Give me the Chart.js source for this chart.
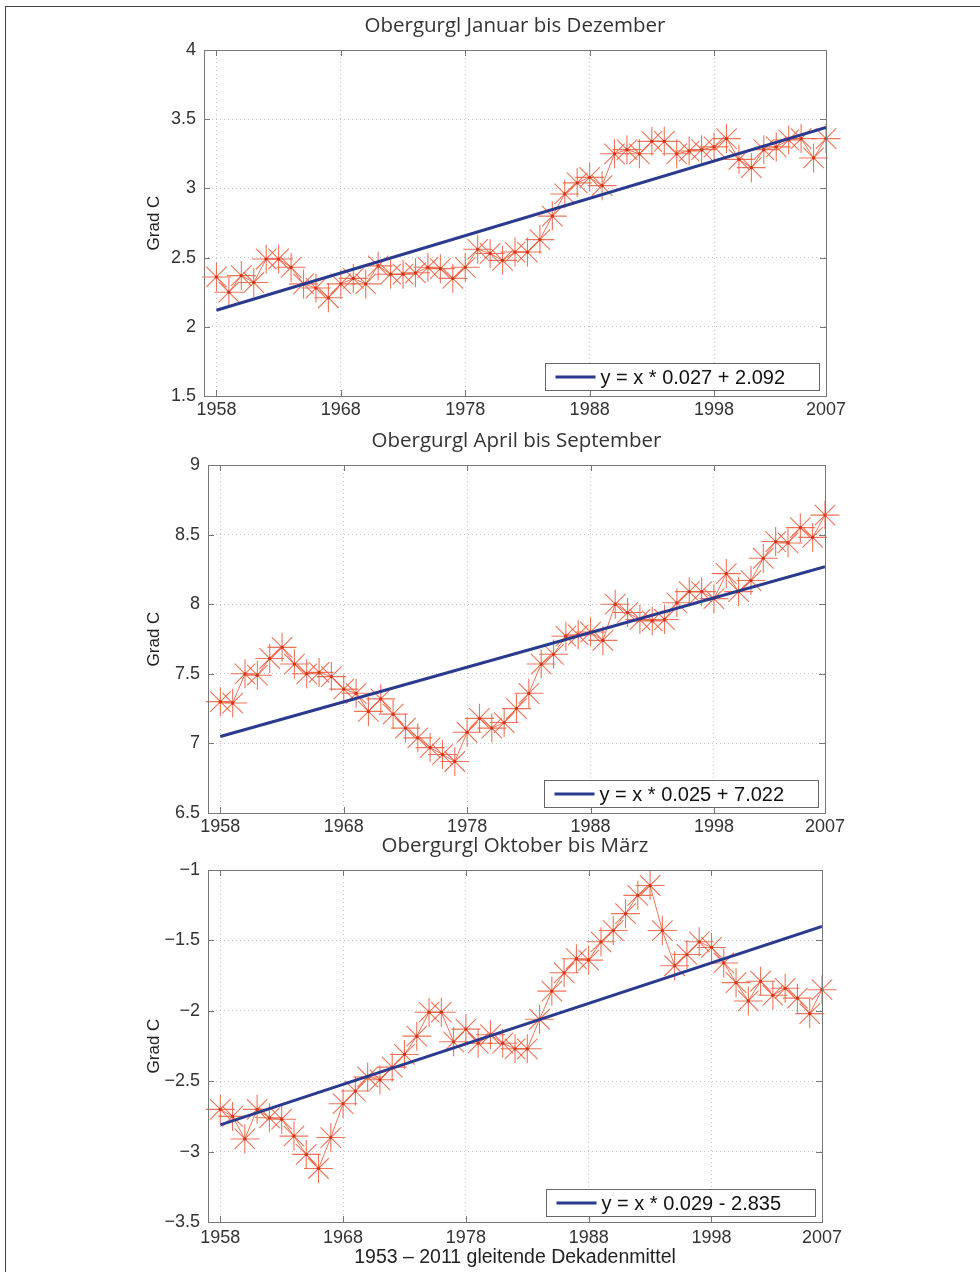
<!DOCTYPE html>
<html>
<head>
<meta charset="utf-8">
<script src="https://cdn.jsdelivr.net/npm/chart.js@4.4.1/dist/chart.umd.min.js"></script>
<style>
  body { margin: 0; background: #fff; }
  #page { position: relative; width: 980px; height: 1272px; overflow: hidden; background: #fff; }
  #frame { position: absolute; left: 5px; top: 6px; width: 990px; height: 1280px;
           border-left: 1px solid #444; border-top: 1px solid #444; }
  canvas { position: absolute; left: 0; }
</style>
</head>
<body>
<div id="page">
  <div id="frame"></div>
  <canvas id="p1" width="980" height="432" style="top:0px"></canvas>
  <canvas id="p2" width="980" height="420" style="top:425px"></canvas>
  <canvas id="p3" width="980" height="444" style="top:828px"></canvas>
</div>
<script>
// Obergurgl, gliding decade means, one value per year
const years = [
  1958, 1959, 1960, 1961, 1962, 1963, 1964, 1965, 1966, 1967,
  1968, 1969, 1970, 1971, 1972, 1973, 1974, 1975, 1976, 1977,
  1978, 1979, 1980, 1981, 1982, 1983, 1984, 1985, 1986, 1987,
  1988, 1989, 1990, 1991, 1992, 1993, 1994, 1995, 1996, 1997,
  1998, 1999, 2000, 2001, 2002, 2003, 2004, 2005, 2006, 2007
];

const janDez = [
  2.36, 2.25, 2.37, 2.32, 2.49, 2.49, 2.43, 2.31, 2.28, 2.21,
  2.31, 2.35, 2.31, 2.44, 2.38, 2.38, 2.39, 2.43, 2.42, 2.35,
  2.43, 2.56, 2.53, 2.48, 2.54, 2.54, 2.63, 2.80, 2.96, 3.04,
  3.08, 3.02, 3.25, 3.28, 3.25, 3.34, 3.34, 3.25, 3.27, 3.28,
  3.30, 3.36, 3.21, 3.15, 3.28, 3.30, 3.35, 3.36, 3.22, 3.36
];

const aprSep = [
  7.30, 7.29, 7.50, 7.49, 7.61, 7.69, 7.57, 7.50, 7.51, 7.48,
  7.39, 7.36, 7.23, 7.32, 7.21, 7.11, 7.04, 6.97, 6.92, 6.87,
  7.08, 7.18, 7.11, 7.15, 7.25, 7.36, 7.57, 7.64, 7.77, 7.78,
  7.80, 7.74, 8.00, 7.94, 7.89, 7.88, 7.89, 8.01, 8.09, 8.09,
  8.04, 8.22, 8.09, 8.17, 8.33, 8.45, 8.44, 8.55, 8.48, 8.64
];

const oktMar = [
  -2.70, -2.75, -2.91, -2.70, -2.76, -2.77, -2.89, -3.02, -3.12, -2.90,
  -2.66, -2.57, -2.47, -2.49, -2.40, -2.31, -2.18, -2.01, -2.01, -2.22,
  -2.13, -2.23, -2.17, -2.23, -2.27, -2.27, -2.06, -1.86, -1.73, -1.63,
  -1.64, -1.51, -1.43, -1.31, -1.18, -1.11, -1.43, -1.68, -1.60, -1.51,
  -1.55, -1.66, -1.80, -1.93, -1.79, -1.89, -1.84, -1.91, -2.02, -1.85
];

// regression lines, value at first and last year
const fitJanDez = [2.12, 3.44];
const fitAprSep = [7.05, 8.27];
const fitOktMar = [-2.81, -1.40];

const fitLabels = ['y = x * 0.027 + 2.092', 'y = x * 0.025 + 7.022', 'y = x * 0.029 - 2.835'];
const titles = ['Obergurgl Januar bis Dezember', 'Obergurgl April bis September', 'Obergurgl Oktober bis März'];

const xTicks = [1958, 1968, 1978, 1988, 1998, 2007];
const yTicks1 = [1.5, 2, 2.5, 3, 3.5, 4];
const yTicks2 = [6.5, 7, 7.5, 8, 8.5, 9];
const yTicks3 = [-3.5, -3, -2.5, -2, -1.5, -1];

const starColor = 'rgba(238, 92, 60, 0.85)';
const dotColor = '#cf3418';
const fitColor = '#2a3a8e';
const tickFont = { family: '"Liberation Sans", Arial, Helvetica, sans-serif', size: 18 };
const labelFont = { family: '"Liberation Sans", Arial, Helvetica, sans-serif', size: 17 };
const xLabelFont = { family: '"Liberation Sans", Arial, Helvetica, sans-serif', size: 19.5 };

// box, inward ticks, title and legend in the matlab look
const matlabBox = {
  id: 'matlabBox',
  afterDraw(chart, args, opts) {
    const { ctx, chartArea: a, scales } = chart;
    ctx.save();
    ctx.strokeStyle = '#777';
    ctx.lineWidth = 1;
    ctx.strokeRect(Math.round(a.left) + 0.5, Math.round(a.top) + 0.5,
                   Math.round(a.width), Math.round(a.height));
    ctx.beginPath();
    scales.x.ticks.forEach(t => {
      const px = Math.round(scales.x.getPixelForValue(t.value)) + 0.5;
      ctx.moveTo(px, a.top); ctx.lineTo(px, a.top + 6);
      ctx.moveTo(px, a.bottom); ctx.lineTo(px, a.bottom - 6);
    });
    scales.y.ticks.forEach(t => {
      const py = Math.round(scales.y.getPixelForValue(t.value)) + 0.5;
      ctx.moveTo(a.left, py); ctx.lineTo(a.left + 6, py);
      ctx.moveTo(a.right, py); ctx.lineTo(a.right - 6, py);
    });
    ctx.stroke();

    // title
    ctx.fillStyle = '#333';
    ctx.font = '20.5px "Open Sans", "Noto Sans", sans-serif';
    ctx.textAlign = 'center';
    ctx.textBaseline = 'middle';
    ctx.fillText(opts.title, (a.left + a.right) / 2, a.top - 24);

    // legend box, bottom right inside the axes
    const label = chart.data.datasets[0].label;
    ctx.font = '20px "Liberation Sans", Arial, sans-serif';
    const tw = ctx.measureText(label).width;
    const bw = Math.round(10 + 40 + 5 + tw + 34), bh = 27;
    const bx = Math.round(a.right - 7 - bw) + 0.5, by = Math.round(a.bottom - 6 - bh) + 0.5;
    ctx.fillStyle = '#fff';
    ctx.fillRect(bx, by, bw, bh);
    ctx.strokeStyle = '#666';
    ctx.strokeRect(bx, by, bw, bh);
    ctx.strokeStyle = fitColor;
    ctx.lineWidth = 3;
    ctx.beginPath();
    ctx.moveTo(bx + 10, by + bh / 2);
    ctx.lineTo(bx + 50, by + bh / 2);
    ctx.stroke();
    ctx.fillStyle = '#111';
    ctx.textAlign = 'left';
    ctx.fillText(label, bx + 55, by + bh / 2 + 1);
    ctx.restore();
  }
};

function makePanel(id, p) {
  const canvas = document.getElementById(id);
  const top = parseInt(canvas.style.top);
  const h = canvas.height;
  const padBottom = h - (p.bottom - top) - p.xAxisH;

  const points = years.map((yr, i) => ({ x: yr, y: p.values[i] }));

  new Chart(canvas, {
    type: 'line',
    data: {
      datasets: [
        {
          label: p.fitLabel,
          data: [{ x: years[0], y: p.fit[0] }, { x: years[years.length - 1], y: p.fit[1] }],
          borderColor: fitColor,
          borderWidth: 3,
          pointRadius: 0
        },
        {
          label: 'dots',
          data: points,
          showLine: false,
          pointStyle: 'circle',
          pointRadius: 1.6,
          pointBackgroundColor: dotColor,
          pointBorderWidth: 0,
          clip: false
        },
        {
          label: 'Dekadenmittel',
          data: points,
          borderColor: starColor,
          borderWidth: 1,
          pointStyle: 'star',
          pointRadius: 14.5,
          pointBorderWidth: 1.1,
          pointBorderColor: starColor,
          clip: false
        }
      ]
    },
    options: {
      responsive: false,
      animation: false,
      events: [],
      layout: {
        padding: { left: 140, right: 980 - p.right, top: p.top - top, bottom: padBottom }
      },
      plugins: {
        legend: { display: false },
        tooltip: { enabled: false },
        matlabBox: { title: p.title }
      },
      scales: {
        x: {
          type: 'linear',
          min: 1957,
          max: 2007,
          afterBuildTicks: s => { s.ticks = xTicks.map(v => ({ value: v })); },
          afterFit: s => { s.height = p.xAxisH; },
          ticks: {
            autoSkip: false, maxRotation: 0, padding: p.xPad,
            color: '#333', font: tickFont,
            callback: v => String(v)
          },
          grid: { color: '#c4c4c4', drawTicks: false },
          border: { display: false, dash: [1, 3] },
          title: {
            display: !!p.xTitle, text: p.xTitle || '',
            color: '#222', font: xLabelFont, padding: { top: 4, bottom: 3 }
          }
        },
        y: {
          min: p.yTicks[0],
          max: p.yTicks[p.yTicks.length - 1],
          afterBuildTicks: s => { s.ticks = p.yTicks.map(v => ({ value: v })); },
          afterFit: s => { s.width = p.left - 140; },
          ticks: {
            padding: 8, color: '#333', font: tickFont,
            callback: v => String(v).replace('-', '\u2212')
          },
          grid: { color: '#c4c4c4', drawTicks: false },
          border: { display: false, dash: [1, 3] },
          title: {
            display: true, text: 'Grad C',
            color: '#222', font: labelFont, padding: { top: 4, bottom: 4 }
          }
        }
      }
    },
    plugins: [matlabBox]
  });
}

makePanel('p1', {
  values: janDez, fit: fitJanDez, fitLabel: fitLabels[0], title: titles[0], yTicks: yTicks1,
  left: 204, right: 826, top: 50, bottom: 396, xAxisH: 30, xPad: 3
});
makePanel('p2', {
  values: aprSep, fit: fitAprSep, fitLabel: fitLabels[1], title: titles[1], yTicks: yTicks2,
  left: 208, right: 825, top: 465, bottom: 813, xAxisH: 30, xPad: 3
});
makePanel('p3', {
  values: oktMar, fit: fitOktMar, fitLabel: fitLabels[2], title: titles[2], yTicks: yTicks3,
  left: 208, right: 822, top: 870, bottom: 1222, xAxisH: 50, xPad: 5,
  xTitle: '1953 \u2013 2011 gleitende Dekadenmittel'
});
</script>
</body>
</html>
